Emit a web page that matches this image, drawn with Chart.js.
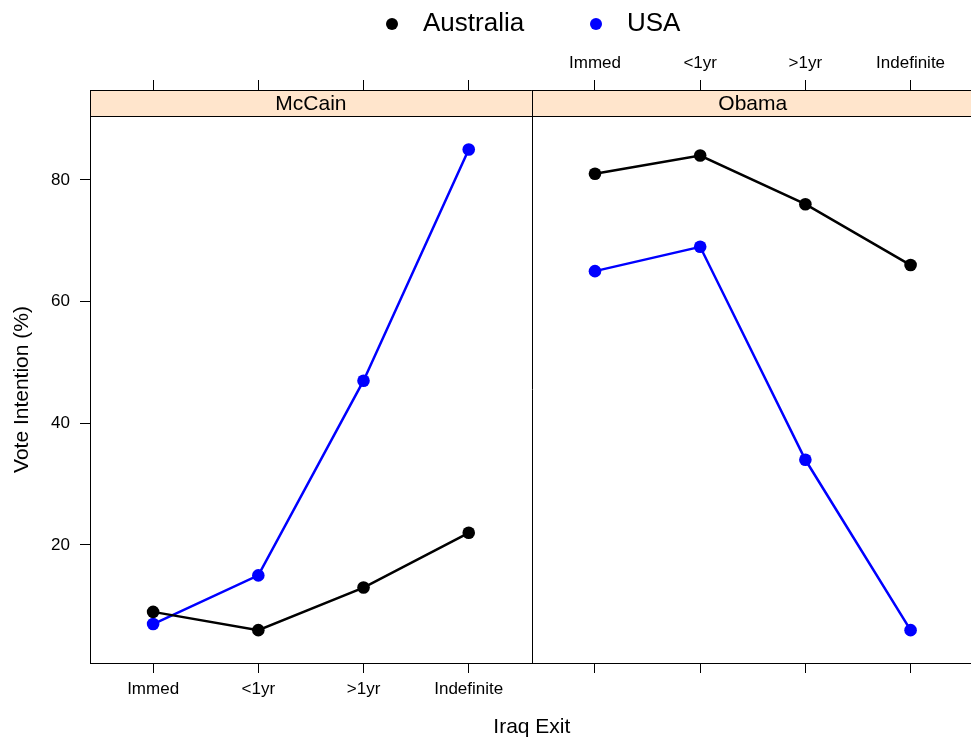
<!DOCTYPE html>
<html>
<head>
<meta charset="utf-8">
<title>Iraq Exit — Vote Intention</title>
<script src="https://cdn.jsdelivr.net/npm/chart.js@4/dist/chart.umd.min.js"></script>
<style>
  html, body { margin: 0; padding: 0; background: #fff; }
  body { width: 971px; height: 742px; overflow: hidden; }
  #wrap { width: 980px; height: 742px; }
</style>
</head>
<body>
<div id="wrap"><canvas id="chart" width="980" height="742"></canvas></div>
<script>
/* Data */
var exitLevels = ['Immed', '<1yr', '>1yr', 'Indefinite'];
var candidates = ['McCain', 'Obama'];
var countries = ['Australia', 'USA'];
var countryColors = ['#000000', '#0000ff'];
var mccainAustralia = [9, 6, 13, 22];
var mccainUSA = [7, 15, 47, 85];
var obamaAustralia = [81, 84, 76, 66];
var obamaUSA = [65, 69, 34, 6];
var yTicks = [20, 40, 60, 80];

// panel layout (lattice style: 0.6 padding each side of the factor range)
var PANEL_W = 4.2;
var FONT = "'Liberation Sans', Arial, Helvetica, sans-serif";

function xPos(panel, i) { return panel * PANEL_W + i + 1; }

function series(panel, values) {
  return values.map(function (v, i) { return { x: xPos(panel, i), y: v }; });
}

var seriesByPanel = [[mccainAustralia, mccainUSA], [obamaAustralia, obamaUSA]];
var datasets = [];
seriesByPanel.forEach(function (pair, p) {
  pair.forEach(function (vals, c) {
    datasets.push({
      label: candidates[p] + ' ' + countries[c],
      data: series(p, vals),
      borderColor: countryColors[c],
      backgroundColor: countryColors[c],
      borderWidth: 2.5,
      pointRadius: 6.3,
      pointHoverRadius: 6.3,
      pointBorderWidth: 0,
      tension: 0
    });
  });
});

var tickValues = [];
candidates.forEach(function (c, p) {
  exitLevels.forEach(function (e, i) { tickValues.push(xPos(p, i)); });
});

function setXTicks(scale) {
  scale.ticks = tickValues.map(function (v) { return { value: v }; });
}

// Strips + panel divider + legend
var latticePlugin = {
  id: 'lattice',
  afterDraw: function (chart) {
    var ctx = chart.ctx;
    var x = chart.scales.x;
    var area = chart.chartArea;
    var stripTop = 90;
    ctx.save();
    // strips
    candidates.forEach(function (name, p) {
      var l = x.getPixelForValue(p * PANEL_W + 0.4);
      var r = x.getPixelForValue((p + 1) * PANEL_W + 0.4);
      ctx.fillStyle = '#ffe5cc';
      ctx.fillRect(l, stripTop, r - l, area.top - stripTop);
      ctx.strokeStyle = '#000';
      ctx.lineWidth = 1;
      ctx.strokeRect(Math.round(l) + 0.5, stripTop + 0.5, Math.round(r - l), area.top - stripTop);
      ctx.fillStyle = '#000';
      ctx.font = '21px ' + FONT;
      ctx.textAlign = 'center';
      ctx.textBaseline = 'middle';
      ctx.fillText(name, (l + r) / 2, (stripTop + area.top) / 2 + 1);
    });
    // divider between panels
    var d = Math.round(x.getPixelForValue(PANEL_W + 0.4)) + 0.5;
    ctx.beginPath();
    ctx.moveTo(d, area.top);
    ctx.lineTo(d, area.bottom);
    ctx.strokeStyle = '#000';
    ctx.lineWidth = 1;
    ctx.stroke();

    // legend
    ctx.font = '26px ' + FONT;
    ctx.textAlign = 'left';
    ctx.textBaseline = 'middle';
    var legendX = [392, 596];
    countries.forEach(function (name, c) {
      ctx.beginPath();
      ctx.arc(legendX[c], 24, 6, 0, Math.PI * 2);
      ctx.fillStyle = countryColors[c];
      ctx.fill();
      ctx.fillStyle = '#000';
      ctx.fillText(name, legendX[c] + 31, 24);
    });
    ctx.restore();
  }
};

var tickFont = { family: FONT, size: 17 };
var titleFont = { family: FONT, size: 21, lineHeight: 1.2 };

new Chart(document.getElementById('chart'), {
  type: 'line',
  data: { datasets: datasets },
  plugins: [latticePlugin],
  options: {
    responsive: false,
    animation: false,
    devicePixelRatio: 1,
    layout: { padding: { left: 0, top: 0, right: 4, bottom: 0 } },
    plugins: { legend: { display: false }, tooltip: { enabled: false } },
    scales: {
      x: {
        type: 'linear',
        position: 'bottom',
        min: 0.4,
        max: 2 * PANEL_W + 0.4,
        afterBuildTicks: setXTicks,
        afterFit: function (s) { s.height = 79; },
        grid: { drawOnChartArea: false, drawTicks: true, tickLength: 10, tickColor: '#000', tickWidth: 1 },
        border: { display: true, color: '#000', width: 1 },
        ticks: {
          autoSkip: false, maxRotation: 0, padding: 6, color: '#000', font: tickFont,
          callback: function (v, i) { return i < exitLevels.length ? exitLevels[i] : ''; }
        },
        title: { display: true, text: 'Iraq Exit', color: '#000', font: titleFont, padding: { top: 0, bottom: 2 } }
      },
      x2: {
        type: 'linear',
        position: 'top',
        min: 0.4,
        max: 2 * PANEL_W + 0.4,
        afterBuildTicks: setXTicks,
        afterFit: function (s) { s.height = 116; },
        grid: { drawOnChartArea: false, drawTicks: true, tickLength: 36, tickColor: '#000', tickWidth: 1 },
        border: { display: true, color: '#000', width: 1 },
        ticks: {
          autoSkip: false, maxRotation: 0, padding: 6, color: '#000', font: tickFont,
          callback: function (v, i) { return i >= exitLevels.length ? exitLevels[i - exitLevels.length] : ''; }
        }
      },
      y: {
        type: 'linear',
        position: 'left',
        min: 0.6,
        max: 90.5,
        afterBuildTicks: function (s) { s.ticks = yTicks.map(function (v) { return { value: v }; }); },
        afterFit: function (s) { s.width = 90; },
        grid: { drawOnChartArea: false, drawTicks: true, tickLength: 10, tickColor: '#000', tickWidth: 1 },
        border: { display: true, color: '#000', width: 1 },
        ticks: { padding: 10, color: '#000', font: tickFont },
        title: { display: true, text: 'Vote Intention (%)', color: '#000', font: titleFont, padding: { top: 10, bottom: 0 } }
      }
    }
  }
});
</script>
</body>
</html>
